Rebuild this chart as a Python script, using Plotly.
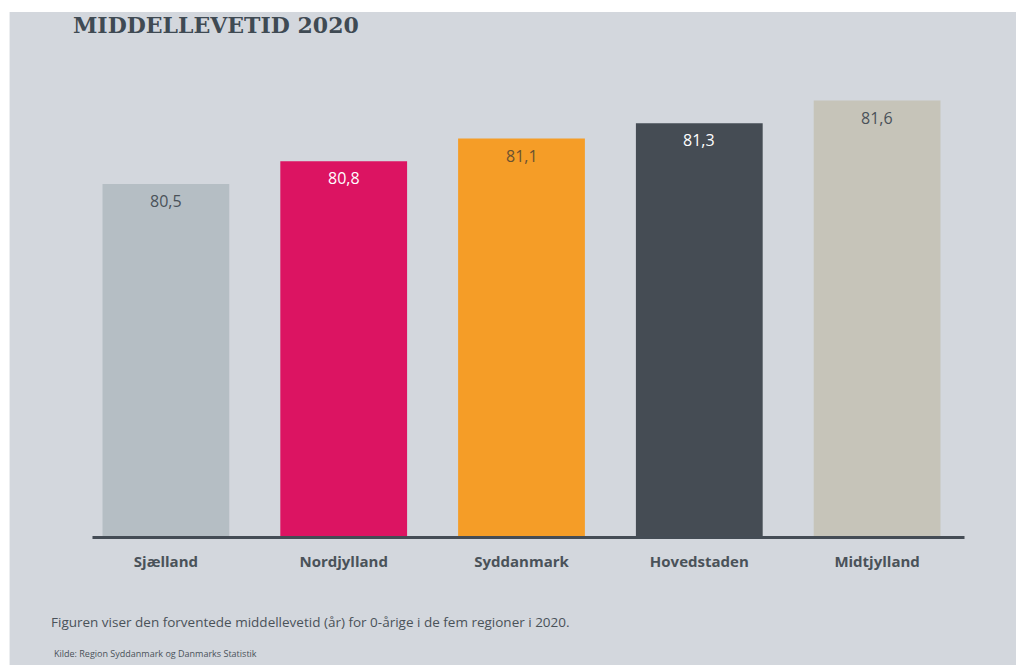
import plotly.graph_objects as go

# data
regioner = ["Sjælland", "Nordjylland", "Syddanmark", "Hovedstaden", "Midtjylland"]
levetid = [80.5, 80.8, 81.1, 81.3, 81.6]
etiketter = ["80,5", "80,8", "81,1", "81,3", "81,6"]

farver = ["#b5bec4", "#dc1462", "#f59d27", "#454c54", "#c6c4b9"]
tekstfarver = ["#4a5259", "#ffffff", "#6b5230", "#ffffff", "#4a5259"]

BASIS = 75.85
TOP = 82.135
MORK = "#444c55"
BG = "#d3d7dd"

# siden har 8px body-margin; figuren placeres så sidekoordinaterne passer
OFF = 8
FW, FH = 1024 - OFF, 665 - OFF
PL, PR, PT, PB = 76.5, 966.5, 60, 537  # plotområde i sidekoordinater
L, T = PL - OFF, PT - OFF
R, B = FW - (PR - OFF), FH - (PB - OFF)
W, H = PR - PL, PB - PT


def px(x):
    return (x - PL) / W


def py(y):
    return (PB - y) / H


fig = go.Figure()
fig.add_trace(go.Bar(
    x=regioner, y=[v - BASIS for v in levetid], base=BASIS,
    marker=dict(color=farver, line=dict(width=0)),
    width=0.713, hoverinfo="skip", showlegend=False))

for r, v, t, c in zip(regioner, levetid, etiketter, tekstfarver):
    fig.add_annotation(x=r, y=v, text=t, showarrow=False, yshift=-17,
                       font=dict(family="Open Sans", size=16, color=c))

# baggrund med hvid kant foroven og til venstre
fig.add_shape(type="rect", xref="paper", yref="paper", layer="below",
              x0=px(9), x1=px(1040), y0=py(680), y1=py(12),
              fillcolor=BG, line=dict(width=0))
# grundlinje
fig.add_shape(type="line", xref="paper", yref="paper",
              x0=px(92), x1=px(965), y0=py(537.5), y1=py(537.5),
              line=dict(color=MORK, width=3))

fig.add_annotation(xref="paper", yref="paper", x=px(70), y=py(25),
                   xanchor="left", yanchor="middle", showarrow=False,
                   text="<b>MIDDELLEVETID 2020</b>",
                   font=dict(family="DejaVu Serif", size=22, color="#3f4a53"))
fig.add_annotation(xref="paper", yref="paper", x=px(48), y=py(622),
                   xanchor="left", yanchor="middle", showarrow=False,
                   text="Figuren viser den forventede middellevetid (år) for 0-årige i de fem regioner i 2020.",
                   font=dict(family="Open Sans", size=13.5, color="#4a5259"))
fig.add_annotation(xref="paper", yref="paper", x=px(51), y=py(653),
                   xanchor="left", yanchor="middle", showarrow=False,
                   text="Kilde: Region Syddanmark og Danmarks Statistik",
                   font=dict(family="Open Sans", size=9, color="#4a5259"))

fig.update_xaxes(showgrid=False, zeroline=False, showline=False, ticks="",
                 tickfont=dict(family="Open Sans", size=15, color="#4a5259",
                               weight="bold"),
                 ticklabelstandoff=14)
fig.update_yaxes(range=[BASIS, TOP], visible=False, showgrid=False, zeroline=False)

fig.update_layout(
    width=FW, height=FH, autosize=False,
    margin=dict(l=L, r=R, t=T, b=B),
    paper_bgcolor="#ffffff", plot_bgcolor="rgba(0,0,0,0)",
    bargap=0.287)

fig.write_html("out.html")
